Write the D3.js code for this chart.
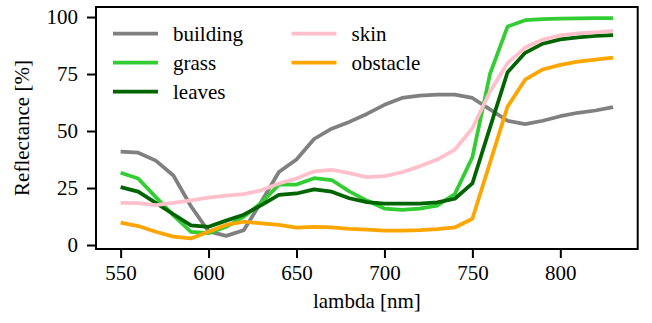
<!DOCTYPE html>
<html>
<head>
<meta charset="utf-8">
<script src="https://cdn.jsdelivr.net/npm/d3@7"></script>
<style>
  body { margin: 0; background: #fff; }
</style>
</head>
<body>
<script>
// wavelengths in nm
var lambda = [550, 560, 570, 580, 590, 600, 610, 620, 630, 640, 650, 660, 670, 680, 690,
              700, 710, 720, 730, 740, 750, 760, 770, 780, 790, 800, 810, 820, 830];

var building = [41, 40.5, 37, 30.5, 17, 6, 4, 6.5, 19, 32, 37.5, 46.5, 51, 54, 57.5,
                61.5, 64.5, 65.5, 66, 66, 64.5, 59.5, 54.5, 53, 54.5, 56.5, 58, 59, 60.5];
var grass = [31.7, 29.2, 21, 13, 5.8, 5.2, 8, 12.4, 18.5, 26.5, 26.5, 29.3, 28.5, 23.5, 19.5,
             16, 15.4, 16, 17.3, 22.3, 38.5, 75, 95.8, 98.6, 99.1, 99.3, 99.4, 99.5, 99.5];
var leaves = [25.4, 23.4, 18.5, 13.5, 8.6, 8, 10.7, 13.3, 17.5, 22, 22.6, 24.4, 23.4, 20.5, 18.8,
              18.2, 18.1, 18.2, 18.7, 20.3, 27, 51.5, 75.8, 84.3, 88.3, 90.2, 91.1, 91.7, 92.1];
var skin = [18.5, 18.4, 17.5, 18.5, 19.6, 20.8, 21.7, 22.3, 24, 27, 29.2, 32.3, 33, 31.5, 29.8,
            30.2, 31.9, 34.5, 37.5, 41.8, 51.2, 67.2, 79.8, 86.6, 90.1, 92, 92.8, 93.3, 93.9];
var obstacle = [9.8, 8.3, 5.8, 3.7, 2.9, 5.8, 8.8, 10.2, 9.5, 8.8, 7.6, 8, 7.7, 7.1, 6.7,
                6.3, 6.3, 6.5, 7, 7.7, 11.5, 36, 60.7, 72.5, 77, 79, 80.4, 81.3, 82.2];

var names = ["building", "grass", "leaves", "skin", "obstacle"];
var colors = ["grey", "limegreen", "darkgreen", "pink", "orange"];
var seriesList = [building, grass, leaves, skin, obstacle];

var xTicks = [550, 600, 650, 700, 750, 800];
var yTicks = [0, 25, 50, 75, 100];

var width = 652, height = 323;
var margin = {top: 7, right: 14.3, bottom: 74, left: 96};
var fontFamily = "Liberation Serif",
    fontSize = 21;

var svg = d3.select("body")
    .append("svg")
    .attr("width", width)
    .attr("height", height);

var x = d3.scaleLinear()
    .domain([536, 844])
    .range([margin.left, width - margin.right]);

var y = d3.scaleLinear()
    .domain([-1.75, 104.4])
    .range([height - margin.bottom, margin.top]);

var line = d3.line()
    .x(function(d) { return x(d[0]); })
    .y(function(d) { return y(d[1]); });

svg.append("g")
    .attr("class", "lines")
    .selectAll("path")
    .data(seriesList)
    .enter()
        .append("path")
        .attr("fill", "none")
        .attr("stroke", function(d, i) { return colors[i]; })
        .attr("stroke-width", 3.75)
        .attr("stroke-linejoin", "round")
        .attr("d", function(vals) {
            return line(vals.map(function(v, j) { return [lambda[j], v]; }));
        });

// axes
var xAxis = svg.append("g")
    .attr("transform", "translate(0," + (height - margin.bottom) + ")")
    .call(d3.axisBottom(x).tickValues(xTicks).tickSize(9).tickPadding(7));

var yAxis = svg.append("g")
    .attr("transform", "translate(" + margin.left + ",0)")
    .call(d3.axisLeft(y).tickValues(yTicks).tickSize(9).tickPadding(9));

[xAxis, yAxis].forEach(function(ax) {
    ax.attr("font-family", fontFamily).attr("font-size", fontSize);
    ax.select(".domain").remove();
    ax.selectAll("line").attr("stroke", "#000").attr("stroke-width", 2);
    ax.selectAll("text").attr("fill", "#000");
});

svg.append("rect")
    .attr("x", margin.left)
    .attr("y", margin.top)
    .attr("width", width - margin.right - margin.left)
    .attr("height", height - margin.bottom - margin.top)
    .attr("fill", "none")
    .attr("stroke", "#000")
    .attr("stroke-width", 2);

// axis labels
svg.append("text")
    .attr("x", (margin.left + width - margin.right) / 2)
    .attr("y", 308)
    .attr("text-anchor", "middle")
    .attr("font-family", fontFamily)
    .attr("font-size", fontSize)
    .text("lambda [nm]");

svg.append("text")
    .attr("transform", "translate(29," + ((margin.top + height - margin.bottom) / 2) + ") rotate(-90)")
    .attr("text-anchor", "middle")
    .attr("font-family", fontFamily)
    .attr("font-size", fontSize)
    .text("Reflectance [%]");

// legend, two columns
var legend = svg.append("g")
    .selectAll("g")
    .data(names)
    .enter()
        .append("g")
        .attr("transform", function(d, i) {
            var col = i < 3 ? 0 : 1, row = i < 3 ? i : i - 3;
            return "translate(" + (113 + col * 178.5) + "," + (33.5 + row * 29) + ")";
        });

legend.append("line")
    .attr("x1", 0).attr("x2", 45)
    .attr("stroke", function(d, i) { return colors[i]; })
    .attr("stroke-width", 3.75);

legend.append("text")
    .attr("x", 60)
    .attr("y", 7)
    .attr("font-family", fontFamily)
    .attr("font-size", fontSize)
    .text(function(d) { return d; });
</script>
</body>
</html>
